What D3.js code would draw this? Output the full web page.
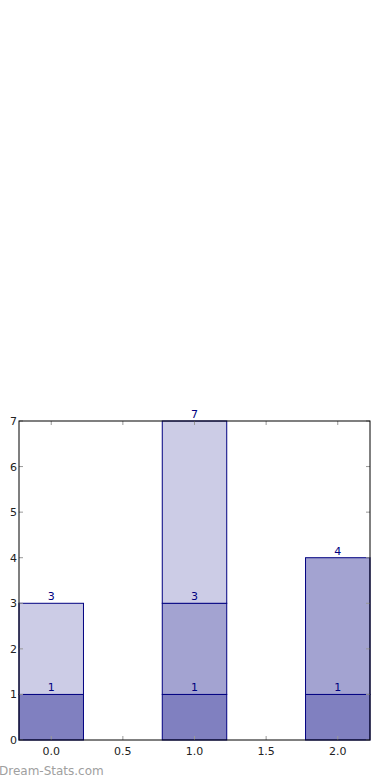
<!DOCTYPE html>
<html>
<head>
<meta charset="utf-8">
<script src="https://cdn.jsdelivr.net/npm/d3@7"></script>
<style>
  body { margin: 0; background: #fff; }
  svg { display: block; font-family: "DejaVu Sans", sans-serif; }
</style>
</head>
<body>
<div id="chart"></div>
<script>
// positions of the bars on the x axis
const positions = [0, 1, 2];
// stacked series (bottom to top)
const darkVals = [1, 1, 1];
const midVals = [0, 2, 3];
const lightVals = [2, 4, 0];
const seriesColors = ["#8080c0", "#a3a3d1", "#cccce6"];
const xTicks = [0, 0.5, 1, 1.5, 2];
const yTicks = [0, 1, 2, 3, 4, 5, 6, 7];

const width = 390, height = 780;
const margin = { left: 19, right: 20, top: 421, bottom: 40 };
const barWidth = 0.45;

var svg = d3.select("#chart")
    .append("svg")
    .attr("width", width)
    .attr("height", height);

var x = d3.scaleLinear()
    .domain([-0.225, 2.225])
    .range([margin.left, width - margin.right]);

var y = d3.scaleLinear()
    .domain([0, 7])
    .range([height - margin.bottom, margin.top]);

// build stacked data
var rows = positions.map(function(p, i) {
    return { pos: p, dark: darkVals[i], mid: midVals[i], light: lightVals[i] };
});
var stack = d3.stack().keys(["dark", "mid", "light"]);
var layers = stack(rows);

var gBars = svg.append("g");
var gLabels = svg.append("g");

layers.forEach(function(layer, li) {
    var segs = layer.filter(function(d) { return d[1] - d[0] > 0; });

    gBars.selectAll(".bar" + li)
        .data(segs)
        .enter().append("rect")
        .attr("class", "bar" + li)
        .attr("x", function(d) { return x(d.data.pos - barWidth / 2); })
        .attr("y", function(d) { return y(d[1]); })
        .attr("width", function(d) { return x(d.data.pos + barWidth / 2) - x(d.data.pos - barWidth / 2); })
        .attr("height", function(d) { return y(d[0]) - y(d[1]); })
        .style("fill", seriesColors[li])
        .style("stroke", "#000080")
        .style("stroke-width", 1);

    gLabels.selectAll(".lab" + li)
        .data(segs)
        .enter().append("text")
        .attr("class", "lab" + li)
        .attr("x", function(d) { return x(d.data.pos); })
        .attr("y", function(d) { return y(d[1]) - 3; })
        .attr("text-anchor", "middle")
        .style("font-size", "11px")
        .style("fill", "#000080")
        .text(function(d) { return d[1]; });
});

// tick marks inside the frame
var tickColor = "#999";
var tl = 4;
xTicks.forEach(function(t) {
    svg.append("line").attr("x1", x(t)).attr("x2", x(t))
        .attr("y1", y(0)).attr("y2", y(0) - tl).style("stroke", tickColor);
    svg.append("line").attr("x1", x(t)).attr("x2", x(t))
        .attr("y1", y(7)).attr("y2", y(7) + tl).style("stroke", tickColor);
    svg.append("text").attr("x", x(t)).attr("y", y(0) + 15)
        .attr("text-anchor", "middle").style("font-size", "11px").style("fill", "#222")
        .text(d3.format(".1f")(t));
});
yTicks.forEach(function(t) {
    svg.append("line").attr("x1", x(-0.225)).attr("x2", x(-0.225) + tl)
        .attr("y1", y(t)).attr("y2", y(t)).style("stroke", tickColor);
    svg.append("line").attr("x1", x(2.225)).attr("x2", x(2.225) - tl)
        .attr("y1", y(t)).attr("y2", y(t)).style("stroke", tickColor);
    svg.append("text").attr("x", x(-0.225) - 2).attr("y", y(t) + 4)
        .attr("text-anchor", "end").style("font-size", "11px").style("fill", "#222")
        .text(t);
});

// frame
svg.append("rect")
    .attr("x", x(-0.225)).attr("y", y(7))
    .attr("width", x(2.225) - x(-0.225)).attr("height", y(0) - y(7))
    .style("fill", "none").style("stroke", "#000").style("stroke-width", 1);

// watermark
svg.append("text").attr("x", -1).attr("y", 775)
    .style("font-size", "12px").style("fill", "#a0a0a0")
    .text("Dream-Stats.com");
</script>
</body>
</html>
